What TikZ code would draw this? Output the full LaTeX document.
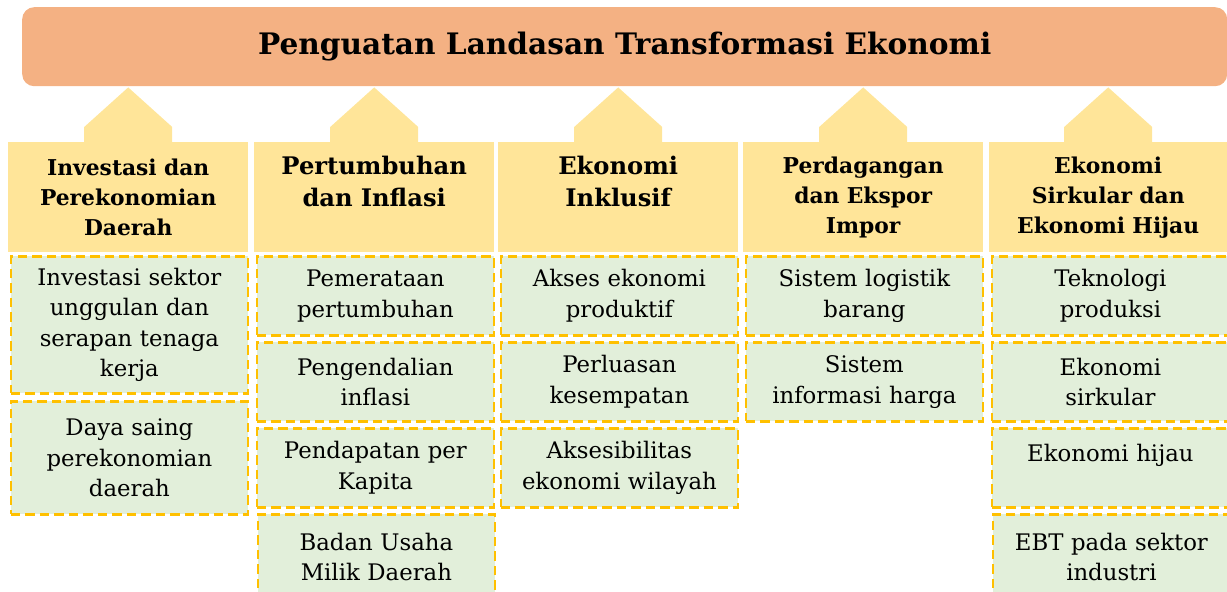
\documentclass[tikz,border=0pt]{standalone}
\usepackage{fontspec}
\setmainfont{DejaVu Serif}
\usetikzlibrary{calc}
\definecolor{titlefill}{HTML}{F4B183}
\definecolor{headfill}{HTML}{FFE599}
\definecolor{itemfill}{HTML}{E2EFDA}
\definecolor{itemdraw}{HTML}{FFC000}
\begin{document}
\begin{tikzpicture}[x=1pt,y=-1pt,
  titlebox/.style={fill=titlefill, rounded corners=12pt, minimum width=1205pt, minimum height=79pt, anchor=north west, inner sep=0pt, font=\fontsize{29.6}{32}\selectfont\bfseries},
  headbox/.style={fill=headfill, minimum width=240pt, minimum height=110pt, anchor=north west, inner sep=0pt, align=center, text width=236pt, font=\fontsize{21.8}{30}\selectfont\bfseries},
  bighead/.style={font=\fontsize{24.2}{32}\selectfont\bfseries},
  itembox/.style={fill=itemfill, draw=itemdraw, line width=2.8pt, dash pattern=on 9.5pt off 5pt, minimum width=237pt, minimum height=79pt, anchor=north west, inner sep=0pt, align=center, text width=232pt, font=\fontsize{22.8}{30.5}\selectfont},
  roof/.style={fill=headfill}
]
\useasboundingbox (0,0) rectangle (1227,592);

\node[titlebox] (title) at (22,7) {Penguatan Landasan Transformasi Ekonomi};

\node[headbox] (h1) at (8,142) {Investasi dan\\Perekonomian\\Daerah};
\node[headbox,bighead] (h2) at (254,142) {Pertumbuhan\\dan Inflasi\\\mbox{}};
\node[headbox,bighead] (h3) at (498,142) {Ekonomi\\Inklusif\\\mbox{}};
\node[headbox] (h4) at (743,142) {Perdagangan\\dan Ekspor\\Impor};
\node[headbox,minimum width=238pt] (h5) at (989,142) {Ekonomi\\Sirkular dan\\Ekonomi Hijau};

\foreach \h in {h1,h2,h3,h4,h5}{
  \path[roof] ($(\h.north)+(-44,0)$) -- ($(\h.north)+(-44,-15)$)
    -- ($(\h.north |- title.south)+(0,1)$)
    -- ($(\h.north)+(44,-15)$) -- ($(\h.north)+(44,0)$) -- cycle;
}

% column 1
\node[itembox,minimum height=137pt] (a1) at (9.5,255) {Investasi sektor\\unggulan dan\\serapan tenaga\\kerja};
\node[itembox,minimum height=113pt] (a2) at (9.5,400) {Daya saing\\perekonomian\\daerah};
% column 2
\node[itembox] (b1) at (255.5,255) {Pemerataan\\pertumbuhan};
\node[itembox] (b2) at (255.5,341) {Pengendalian\\inflasi};
\node[itembox] (b3) at (255.5,427) {Pendapatan per\\Kapita};
\node[itembox,minimum height=85pt] (b4) at (256.5,513) {Badan Usaha\\Milik Daerah};
% column 3
\node[itembox] (c1) at (499.5,255) {Akses ekonomi\\produktif};
\node[itembox] (c2) at (499.5,341) {Perluasan\\kesempatan};
\node[itembox] (c3) at (499.5,427) {Aksesibilitas\\ekonomi wilayah};
% column 4
\node[itembox] (d1) at (744.5,255) {Sistem logistik\\barang};
\node[itembox] (d2) at (744.5,341) {Sistem\\informasi harga};
% column 5
\node[itembox] (e1) at (990.5,255) {Teknologi\\produksi};
\node[itembox] (e2) at (990.5,341) {Ekonomi\\sirkular};
\node[itembox] (e3) at (990.5,427) {Ekonomi hijau\\\mbox{}};
\node[itembox,minimum height=85pt] (e4) at (991.5,513) {EBT pada sektor\\industri};
\end{tikzpicture}
\end{document}
